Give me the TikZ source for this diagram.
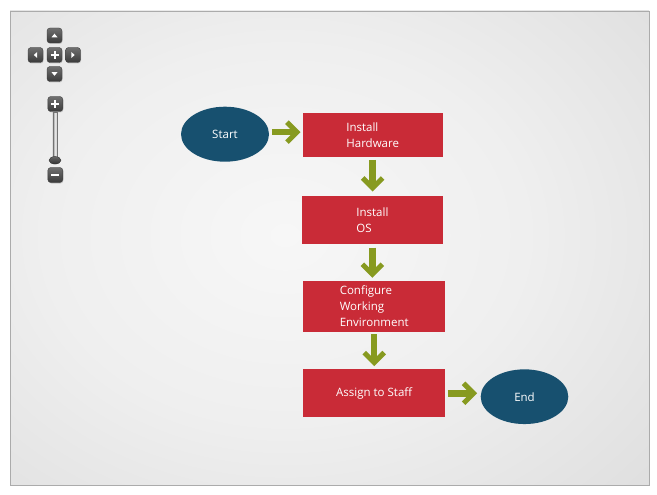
\documentclass[tikz,border=0pt]{standalone}
\usepackage{fontspec}
\setmainfont{Open Sans}
\usetikzlibrary{arrows.meta,shapes.geometric,calc,shadows}
\definecolor{bgc0}{HTML}{F7F7F7}
\definecolor{bgc1}{HTML}{EFEFEF}
\definecolor{bgc2}{HTML}{D8D8D8}
\definecolor{bgc3}{HTML}{CACACA}
\definecolor{boxred}{HTML}{C92B37}
\definecolor{termblue}{HTML}{17506F}
\definecolor{arrowgreen}{HTML}{879A20}
\definecolor{btntop}{HTML}{707070}
\definecolor{btnbot}{HTML}{3A3A3A}
\pgfdeclareradialshading{bgshade}{\pgfpoint{0bp}{0bp}}{color(0bp)=(bgc0); color(12bp)=(bgc1); color(30bp)=(bgc2); color(50bp)=(bgc3)}
\tikzset{
  box/.style={rectangle, fill=boxred, text=white, align=left, inner sep=0pt,
    font=\fontsize{11.5}{16}\selectfont},
  term/.style={ellipse, fill=termblue, text=white, inner sep=0pt,
    font=\fontsize{11.5}{16}\selectfont},
  flow/.style={draw=arrowgreen, line width=6.5pt,
    -{Straight Barb[length=10pt,width=20pt,line width=5pt]}},
  btn/.style={rectangle, rounded corners=3pt, top color=btntop, bottom color=btnbot,
    draw=black!75, line width=0.4pt, minimum width=15pt, minimum height=15pt, inner sep=0pt,
    drop shadow={shadow xshift=0.6pt, shadow yshift=-1pt, opacity=0.35}},
  glyph/.style={fill=white},
  pm/.style={draw=white, line width=2pt},
}
\begin{document}
\begin{tikzpicture}[x=1pt,y=-1pt]
\useasboundingbox (0,0) rectangle (657,495);
% background panel
\begin{scope}
  \clip (10,11) rectangle (649,485);
  \fill[bgc3] (10,11) rectangle (649,485);
  \shade[shading=bgshade] (285,235) ellipse [x radius=500, y radius=390];
\end{scope}
\draw[draw=black!33, line width=0.8pt] (10,11) rectangle (649,485);

% pan control
\node[btn] (panup) at (54.5,35.5) {};
\node[btn] (panleft) at (35.5,55) {};
\node[btn] (pancenter) at (54.5,55) {};
\node[btn] (panright) at (73,55) {};
\node[btn] (pandown) at (54.5,74) {};
\fill[glyph] ($(panup)+(-3,1.8)$) -- ($(panup)+(3,1.8)$) -- ($(panup)+(0,-1.8)$) -- cycle;
\fill[glyph] ($(pandown)+(-3,-1.8)$) -- ($(pandown)+(3,-1.8)$) -- ($(pandown)+(0,1.8)$) -- cycle;
\fill[glyph] ($(panleft)+(1.6,-3)$) -- ($(panleft)+(1.6,3)$) -- ($(panleft)+(-1.6,0)$) -- cycle;
\fill[glyph] ($(panright)+(-1.6,-3)$) -- ($(panright)+(-1.6,3)$) -- ($(panright)+(1.6,0)$) -- cycle;
\draw[pm] ($(pancenter)+(-4,0)$) -- ($(pancenter)+(4,0)$);
\draw[pm] ($(pancenter)+(0,-4)$) -- ($(pancenter)+(0,4)$);

% zoom control
\node[rectangle, left color=black!45, right color=black!20, middle color=black!10,
  draw=black!55, line width=0.4pt, minimum width=4.5pt, minimum height=48pt, inner sep=0pt]
  (track) at (55,136.5) {};
\node[btn] (zoomin) at (55.3,104) {};
\node[btn] (zoomout) at (55.3,175) {};
\node[ellipse, top color=black!60, bottom color=black!80, draw=black!80, line width=0.4pt,
  minimum width=12pt, minimum height=7.5pt, inner sep=0pt] (knob) at (55,160.3) {};
\draw[pm] ($(zoomin)+(-4,0)$) -- ($(zoomin)+(4,0)$);
\draw[pm] ($(zoomin)+(0,-4)$) -- ($(zoomin)+(0,4)$);
\draw[pm] ($(zoomout)+(-4,0)$) -- ($(zoomout)+(4,0)$);

% flowchart
\node[term, minimum width=88pt, minimum height=55pt] (start) at (225,134.2) {Start};
\node[box, minimum width=140pt, minimum height=43.4pt] (hw) at (372.7,135) {Install\\Hardware};
\node[box, minimum width=141.3pt, minimum height=48.6pt] (os) at (372.4,220) {Install\\OS};
\node[box, minimum width=141.7pt, minimum height=51.3pt] (conf) at (374.2,306.6) {Configure\\Working\\Environment};
\node[box, minimum width=141.7pt, minimum height=48pt] (assign) at (374.2,393.3) {Assign to Staff};
\node[term, minimum width=87.6pt, minimum height=54.7pt] (end) at (524.5,396.7) {End};

\draw[flow, shorten <=3pt, shorten >=2pt] ([yshift=2pt]start.east) -- ([yshift=2pt]start.east -| hw.west);
\draw[flow, shorten <=3pt, shorten >=4pt] (hw.south) -- (hw.south |- os.north);
\draw[flow, shorten <=3pt, shorten >=3pt] (os.south) -- (os.south |- conf.north);
\draw[flow, shorten <=2pt, shorten >=3pt] (conf.south) -- (conf.south |- assign.north);
\draw[flow, shorten <=2.7pt, shorten >=3.4pt] (assign.east) -- (assign.east -| end.west);
\end{tikzpicture}
\end{document}
